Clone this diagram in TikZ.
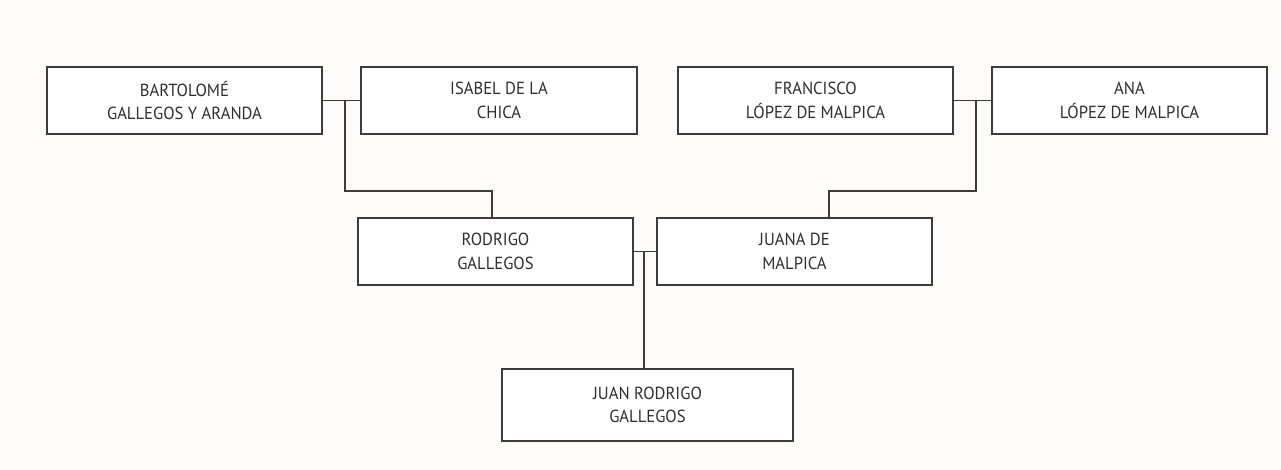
\documentclass[tikz,border=0pt]{standalone}
\usepackage{fontspec}
\setmainfont[FakeStretch=0.95]{PT Sans}
\definecolor{bg}{HTML}{FDFCFA}
\definecolor{ln}{HTML}{3C3C3C}
\definecolor{tx}{HTML}{2E2E2E}
\begin{document}
\begin{tikzpicture}[x=1pt,y=-1pt,
  person/.style={draw=ln, line width=1.1pt, fill=white, align=center, text=tx,
    font=\fontsize{17.5}{23.5}\selectfont, inner sep=0pt, minimum height=67pt},
  link/.style={draw=ln, line width=1.1pt}]
\fill[bg] (0,0) rectangle (1281,470);
\useasboundingbox (0,0) rectangle (1281,470);
\node[person, minimum width=275pt] (bart) at (184.5,100.5) {BARTOLOMÉ\\GALLEGOS Y ARANDA};
\node[person, minimum width=276pt] (isa) at (499,100.5) {ISABEL DE LA\\CHICA};
\node[person, minimum width=275pt] (fran) at (815.5,100.5) {FRANCISCO\\LÓPEZ DE MALPICA};
\node[person, minimum width=275pt] (ana) at (1129.5,100.5) {ANA\\LÓPEZ DE MALPICA};
\node[person, minimum width=275pt] (rod) at (495.5,251.5) {RODRIGO\\GALLEGOS};
\node[person, minimum width=275pt] (jua) at (794.5,251.5) {JUANA DE\\MALPICA};
\node[person, minimum width=291pt, minimum height=72pt] (juan) at (647.5,405) {JUAN RODRIGO\\GALLEGOS};
\coordinate (j1) at (345,100.5);
\coordinate (h1) at (492,191);
\coordinate (j2) at (976,100.5);
\coordinate (h2) at (829,191);
\coordinate (j3) at (644,251.5);
\draw[link] (bart.east) -- (isa.west);
\draw[link] (fran.east) -- (ana.west);
\draw[link] (rod.east) -- (jua.west);
\draw[link] (j1) |- (h1) -- (h1 |- rod.north);
\draw[link] (j2) |- (h2) -- (h2 |- jua.north);
\draw[link] (j3) -- (j3 |- juan.north);
\end{tikzpicture}
\end{document}
